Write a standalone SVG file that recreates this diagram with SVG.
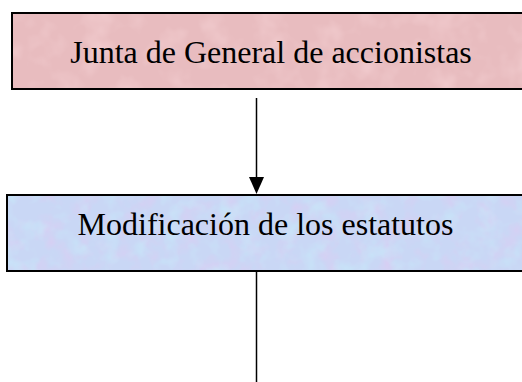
<svg xmlns="http://www.w3.org/2000/svg" width="522" height="382" viewBox="0 0 522 382">
<style>
.box{stroke:#000;stroke-width:2;fill:none}
.lbl{font-family:"Liberation Serif","Times New Roman",serif;font-size:32px;fill:#000;text-anchor:middle}
.conn{stroke:#000;stroke-width:1.5;fill:none}
</style>
<defs>
<filter id="texPink" x="0" y="0" width="1" height="1" color-interpolation-filters="sRGB">
<feTurbulence type="fractalNoise" baseFrequency="0.035" numOctaves="3" seed="4" result="n"/>
<feColorMatrix in="n" type="matrix" values="0 0 0 0 0.96  0 0 0 0 0.82  0 0 0 0 0.83  1.6 0 0 0 -0.75" result="c"/>
<feFlood flood-color="#e8bcbf" result="b"/>
<feComposite in="c" in2="b" operator="over" result="m"/>
<feComposite in="m" in2="SourceGraphic" operator="in"/>
</filter>
<filter id="texBlue" x="0" y="0" width="1" height="1" color-interpolation-filters="sRGB">
<feTurbulence type="fractalNoise" baseFrequency="0.05" numOctaves="3" seed="9" result="n"/>
<feColorMatrix in="n" type="matrix" values="0 0 0 0 0.86  0 0 0 0 0.80  0 0 0 0 0.95  1.6 0 0 0 -0.7" result="c"/>
<feColorMatrix in="n" type="matrix" values="0 0 0 0 0.78  0 0 0 0 0.92  0 0 0 0 0.98  0 1.6 0 0 -0.75" result="c2"/>
<feFlood flood-color="#c9d7f5" result="b"/>
<feComposite in="c" in2="b" operator="over" result="m1"/>
<feComposite in="c2" in2="m1" operator="over" result="m"/>
<feComposite in="m" in2="SourceGraphic" operator="in"/>
</filter>
</defs>
<g id="node-junta">
<rect x="12" y="13" width="530" height="76" fill="#e8bcbf" filter="url(#texPink)"/>
<rect class="box" x="12" y="13" width="530" height="76"/>
<text class="lbl" x="271" y="63">Junta de General de accionistas</text>
</g>
<g id="node-modificacion">
<rect x="7" y="195" width="530" height="76" fill="#c9d7f5" filter="url(#texBlue)"/>
<rect class="box" x="7" y="195" width="530" height="76"/>
<text class="lbl" x="265.5" y="235">Modificación de los estatutos</text>
</g>
<g id="connectors">
<line class="conn" x1="256.5" y1="98" x2="256.5" y2="180"/>
<polygon points="249,177 264,177 256.5,194" fill="#000"/>
<line class="conn" x1="256.5" y1="272" x2="256.5" y2="382"/>
</g>
</svg>
